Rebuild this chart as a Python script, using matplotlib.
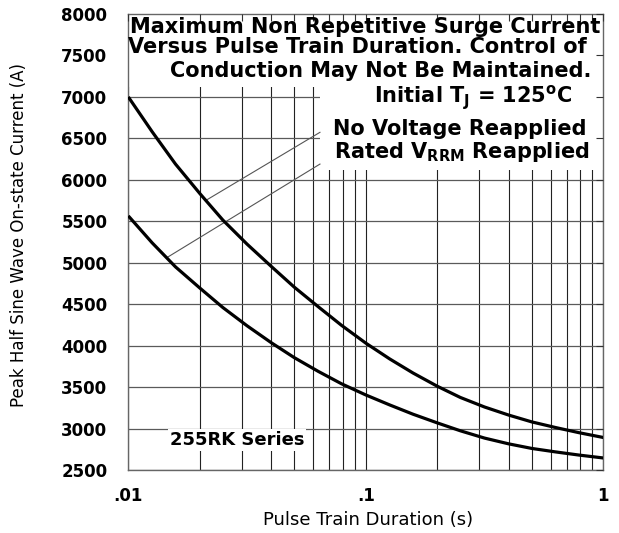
import matplotlib
matplotlib.use("Agg")
import matplotlib.pyplot as plt
import numpy as np
from matplotlib.patches import Rectangle

plt.rcParams['font.family'] = ['DejaVu Sans']
plt.rcParams['mathtext.fontset'] = 'custom'
plt.rcParams['mathtext.rm'] = 'DejaVu Sans'
plt.rcParams['mathtext.bf'] = 'DejaVu Sans:bold'

# ---- data ----
pulse_duration = [0.01, 0.0126, 0.0158, 0.02, 0.025, 0.0316, 0.04, 0.05, 0.063,
                  0.079, 0.1, 0.126, 0.158, 0.2, 0.25, 0.316, 0.4, 0.5, 0.63,
                  0.79, 1.0]
no_voltage_reapplied = [7000, 6580, 6190, 5835, 5515, 5225, 4955, 4705, 4470,
                        4245, 4030, 3840, 3670, 3510, 3375, 3260, 3162, 3080,
                        3012, 2950, 2892]
rated_vrrm_reapplied = [5565, 5240, 4950, 4695, 4460, 4240, 4035, 3855, 3690,
                        3540, 3405, 3285, 3173, 3068, 2973, 2885, 2815, 2760,
                        2718, 2680, 2645]

x_ticks = [0.01, 0.1, 1]
x_tick_labels = ['.01', '.1', '1']
x_minor = [0.02, 0.03, 0.04, 0.05, 0.06, 0.07, 0.08, 0.09,
           0.2, 0.3, 0.4, 0.5, 0.6, 0.7, 0.8, 0.9]
y_ticks = list(range(2500, 8001, 500))

title_lines = ["Maximum Non Repetitive Surge Current",
               "Versus Pulse Train Duration. Control of",
               "Conduction May Not Be Maintained."]
cond_lines = [r"Initial T$_\mathbf{J}$ = 125$^\mathbf{o}$C",
              "No Voltage Reapplied",
              r"Rated V$_\mathbf{RRM}$ Reapplied"]
series_label = "255RK Series"

# ---- figure ----
fig = plt.figure(figsize=(6.19, 5.33), dpi=100)
ax = fig.add_axes([0.2073, 0.1182, 0.7674, 0.8555])
ax.set_xscale('log')
ax.set_xlim(0.01, 1)
ax.set_ylim(2500, 8000)

# grid
for xv in x_minor + x_ticks:
    ax.axvline(xv, color='#222222', lw=0.8, zorder=1)
for yv in y_ticks:
    ax.axhline(yv, color='#5a5a5a', lw=0.9, zorder=1)

# white areas behind the text
ax.add_patch(Rectangle((0.01, 7120), 0.99, 880, facecolor='white',
                       edgecolor='none', zorder=1.5))
ax.add_patch(Rectangle((0.0641, 6120), 1 - 0.0641, 1880, facecolor='white',
                       edgecolor='none', zorder=1.5))

# curves
ax.plot(pulse_duration, no_voltage_reapplied, color='black', lw=2.3, zorder=3,
        solid_capstyle='butt', solid_joinstyle='round')
ax.plot(pulse_duration, rated_vrrm_reapplied, color='black', lw=2.3, zorder=3,
        solid_capstyle='butt', solid_joinstyle='round')

# leader lines from the curves to the labels
lx = np.log10(pulse_duration)
s1 = 0.0212
s2 = 0.0145
y1 = np.interp(np.log10(s1), lx, no_voltage_reapplied)
y2 = np.interp(np.log10(s2), lx, rated_vrrm_reapplied)
ax.plot([s1, 0.0641], [y1, 6573], color='#555555', lw=0.8, zorder=2)
ax.plot([s2, 0.0641], [y2, 6190], color='#555555', lw=0.8, zorder=2)

# axes styling
ax.set_axisbelow(False)
ax.set_xticks(x_ticks)
ax.set_xticklabels(x_tick_labels)
ax.set_xticks(x_minor, minor=True)
ax.set_xticklabels([], minor=True)
ax.set_yticks(y_ticks)
ax.tick_params(axis='both', which='both', direction='in', labelsize=12)
ax.tick_params(axis='x', which='both', top=True, bottom=False, length=5,
               width=0.8, color='#333333', pad=12)
ax.tick_params(axis='y', right=True, left=False, length=5, width=0.8,
               color='#333333', pad=15)
for lab in ax.get_xticklabels() + ax.get_yticklabels():
    lab.set_fontweight('bold')
for sp in ax.spines.values():
    sp.set_color('#666666')
    sp.set_linewidth(1.0)

ax.set_xlabel("Pulse Train Duration (s)", fontsize=13)
ax.set_ylabel("Peak Half Sine Wave On-state Current (A)", fontsize=12)
ax.xaxis.set_label_coords(0.505, -0.089)
ax.yaxis.set_label_coords(-0.212, 0.515)

# text
title_pos = [(0.498, 0.9583), (0.483, 0.9145), (0.532, 0.8618)]
for t, (xp, yp) in zip(title_lines, title_pos):
    ax.text(xp, yp, t, transform=ax.transAxes, ha='center', va='baseline',
            fontsize=15, fontweight='bold', zorder=4)
cond_pos = [(0.7257, 0.8048), (0.698, 0.7346), (0.702, 0.6842)]
for t, (xp, yp) in zip(cond_lines, cond_pos):
    ax.text(xp, yp, t, transform=ax.transAxes, ha='center', va='baseline',
            fontsize=15, fontweight='bold', zorder=4)

ax.text(0.0287, 2861, series_label, ha='center', va='center', fontsize=13,
        fontweight='bold', zorder=4,
        bbox=dict(facecolor='white', edgecolor='none', pad=1.5))

fig.savefig('out.png', dpi=100)
